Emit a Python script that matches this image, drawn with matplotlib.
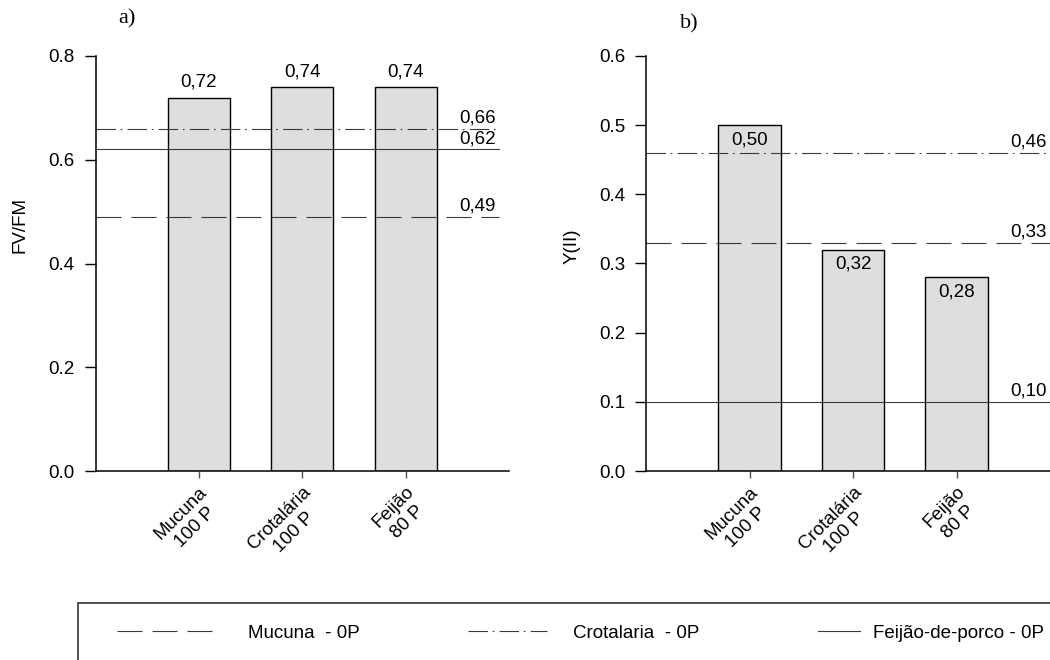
import matplotlib
matplotlib.use("Agg")
import matplotlib.pyplot as plt
from matplotlib.lines import Line2D
from matplotlib.patches import Rectangle
from matplotlib.ticker import MultipleLocator
from matplotlib.transforms import offset_copy

# ---- data -------------------------------------------------------------
categories = ["Mucuna\n100 P", "Crotalária\n100 P", "Feijão\n80 P"]
fvfm_values = [0.72, 0.74, 0.74]
yii_values = [0.50, 0.32, 0.28]

ref_names = ["Mucuna  - 0P", "Crotalaria  - 0P", "Feijão-de-porco - 0P"]
ref_fvfm = [0.49, 0.66, 0.62]
ref_yii = [0.33, 0.46, 0.10]

# ---- style ------------------------------------------------------------
FONT_PT = 13.5
plt.rcParams["font.family"] = ["Liberation Sans", "DejaVu Sans"]
plt.rcParams["font.size"] = FONT_PT
plt.rcParams["lines.scale_dashes"] = False

W, H, DPI = 1050, 660, 100
BAR_FILL = "#dedede"
LINE_COLOR = "#3a3a3a"
ref_styles = [
    dict(linestyle=(0, (18, 7.2)), color=LINE_COLOR, linewidth=0.8),
    dict(linestyle=(0, (14, 3.4, 1.2, 3.8)), color=LINE_COLOR, linewidth=0.8),
    dict(linestyle="-", color=LINE_COLOR, linewidth=0.8),
]


def fmt(v):
    return f"{v:.2f}".replace(".", ",")


fig = plt.figure(figsize=(W / DPI, H / DPI), dpi=DPI)


def px_axes(left, bottom, width, height):
    return fig.add_axes([left / W, (H - bottom) / H, width / W, height / H])


def draw_panel(ax, values, refs, ymax, ystep, ylabel, label_coords, inside):
    x = list(range(1, len(values) + 1))
    ax.bar(x, values, width=0.6, color=BAR_FILL, edgecolor="black",
           linewidth=1.0, zorder=1)
    ax.set_xlim(0, 4)
    ax.set_ylim(0, ymax)
    ax.yaxis.set_major_locator(MultipleLocator(ystep))
    for side in ("top", "right"):
        ax.spines[side].set_visible(False)
    for side in ("left", "bottom"):
        ax.spines[side].set_linewidth(1.1)
    ax.tick_params(axis="y", length=8, width=1.0, pad=7)
    ax.tick_params(axis="x", length=5, width=1.0, color="#555555", pad=4)
    ax.set_xticks(x)
    ax.set_xticklabels(categories, rotation=45, ha="right", va="top",
                       rotation_mode="anchor", multialignment="center",
                       linespacing=1.25)
    ax.set_ylabel(ylabel)
    ax.yaxis.set_label_coords(*label_coords)

    # value labels on the bars
    if inside:
        tr = offset_copy(ax.transData, fig=fig, y=-6, units="dots")
        for xi, v in zip(x, values):
            ax.text(xi, v, fmt(v), ha="center", va="top", transform=tr, zorder=3)
    else:
        tr = offset_copy(ax.transData, fig=fig, y=7, units="dots")
        for xi, v in zip(x, values):
            ax.text(xi, v, fmt(v), ha="center", va="bottom", transform=tr, zorder=3)

    # reference lines for the 0P treatments
    tr = offset_copy(ax.transData, fig=fig, y=2, units="dots")
    for v, st in zip(refs, ref_styles):
        ax.axhline(v, xmin=0, xmax=0.975, zorder=2, **st)
        ax.text(3.87, v, fmt(v), ha="right", va="bottom", transform=tr, zorder=3)


ax_a = px_axes(95.5, 471, 413.5, 415)
draw_panel(ax_a, fvfm_values, ref_fvfm, 0.8, 0.2, "FV/FM", (-0.162, 0.593), inside=False)

ax_b = px_axes(646, 471, 414, 415)
draw_panel(ax_b, yii_values, ref_yii, 0.6, 0.1, "Y(II)", (-0.158, 0.542), inside=True)

fig.text(127 / W, 1 - 19 / H, "a)", family="Liberation Serif", size=16,
         ha="center", va="center")
fig.text(689 / W, 1 - 24 / H, "b)", family="Liberation Serif", size=16,
         ha="center", va="center")

# ---- legend strip -----------------------------------------------------
fig.patches.append(Rectangle((78 / W, -0.1), 1.0, (H - 603) / H + 0.1,
                             transform=fig.transFigure, fill=False,
                             edgecolor="#333333", linewidth=1.2))

font_px = FONT_PT * DPI / 72
handle_specs = [(117, 95, 248), (468, 79, 573), (818, 42, 873)]
for name, st, (hx, hlen, tx) in zip(ref_names, ref_styles, handle_specs):
    handle = Line2D([], [], **st)
    fig.legend([handle], [name], loc="center left",
               bbox_to_anchor=(hx / W, 1 - 633 / H), frameon=False,
               borderpad=0, borderaxespad=0,
               handlelength=hlen / font_px,
               handletextpad=(tx - hx - hlen) / font_px)

fig.savefig("out.png", dpi=DPI)
